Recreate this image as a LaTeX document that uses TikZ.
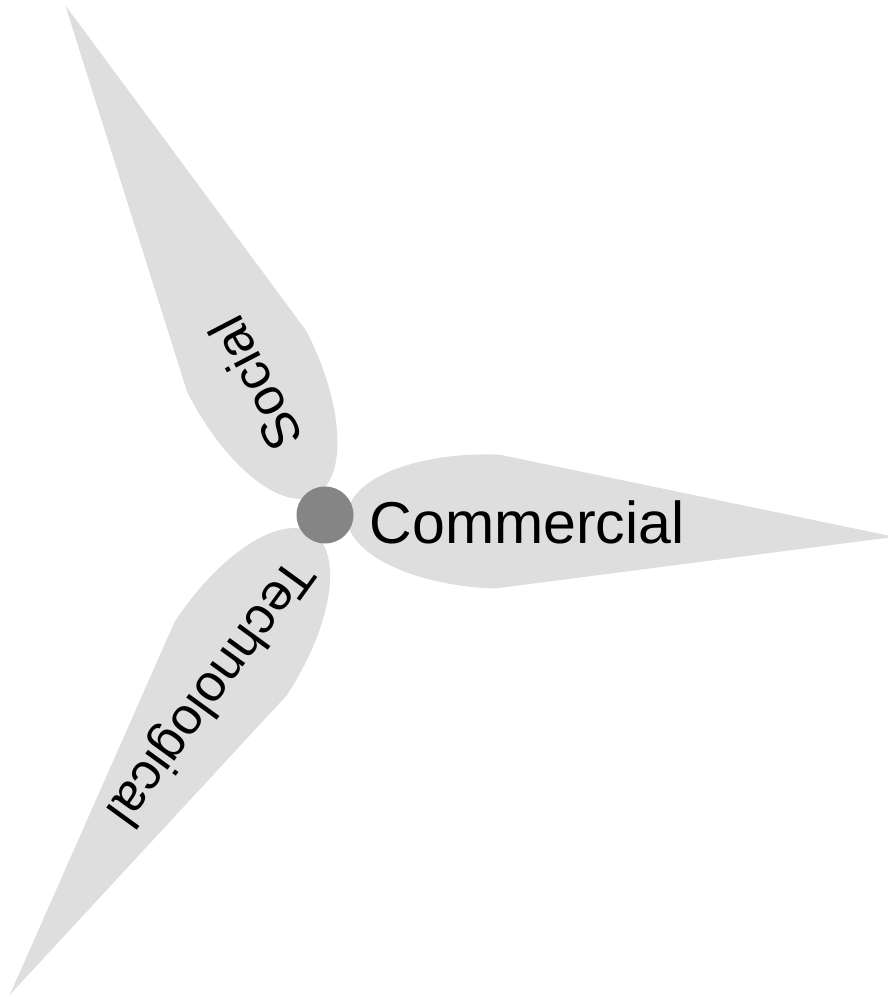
\documentclass[tikz,border=0pt]{standalone}
\usepackage{fontspec}
\setmainfont{Liberation Sans}
\usetikzlibrary{positioning}
\definecolor{bladegray}{HTML}{DEDEDE}
\definecolor{hubgray}{HTML}{858585}

\begin{document}
\begin{tikzpicture}[x=0.02cm, y=0.02cm,
  blade/.style={fill=bladegray, draw=none},
  bladelabel/.style={inner sep=0pt, font=\fontsize{29.6}{30}\selectfont}]
\useasboundingbox (0,0) rectangle (888,997);
\begin{scope}[shift={(325,482)}, rotate=-2.2]
% Commercial blade
\fill[blade] (172,67) arc[start angle=90, end angle=270, x radius=150, y radius=67] -- (570,0) -- cycle;
\end{scope}
\begin{scope}[shift={(325,482)}, rotate=117]
% Social blade
\fill[blade] (172,67) arc[start angle=90, end angle=270, x radius=150, y radius=67] -- (572,0) -- cycle;
\end{scope}
\begin{scope}[shift={(325,482)}, rotate=236.7]
% Technological blade
\fill[blade] (172,67) arc[start angle=90, end angle=270, x radius=150, y radius=67] -- (574,0) -- cycle;
\end{scope}
% Hub
\node[circle, fill=hubgray, minimum size=57*0.02cm, inner sep=0pt] (hub) at (325,482) {};
% Labels
\node[bladelabel, font=\fontsize{33.6}{34}\selectfont] (commercial) at (527,475) {Commercial};
\node[bladelabel, rotate=117.5] (social) at (255,613) {Social};
\node[bladelabel, rotate=234] (technological) at (208,306) {Technological};
\end{tikzpicture}
\end{document}
